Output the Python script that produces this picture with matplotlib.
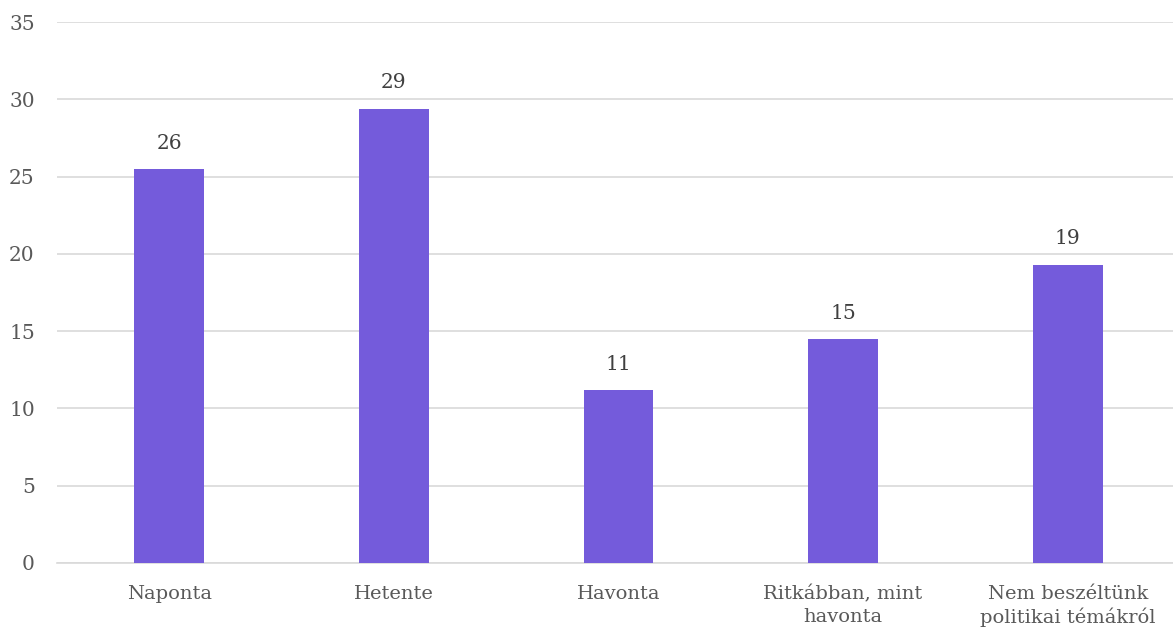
import numpy as np
import matplotlib.pyplot as plt

# Datos
categorias = ["Naponta", "Hetente", "Havonta", "Ritkábban, mint\nhavonta",
              "Nem beszéltünk\npolitikai témákról"]
valores = [25.5, 29.4, 11.2, 14.5, 19.3]
etiquetas = ["26", "29", "11", "15", "19"]
yticks = [0, 5, 10, 15, 20, 25, 30, 35]

plt.rcParams['font.family'] = ['DejaVu Serif']
gris = "#595959"

fig = plt.figure(figsize=(11.73, 6.34), dpi=100)
ax = fig.add_axes([57 / 1173, 1 - 563 / 634, 1123 / 1173, 541 / 634])

x = np.arange(len(categorias))
ax.bar(x, valores, width=0.31, color="#745BDB", zorder=3)

for xi, v, t in zip(x, valores, etiquetas):
    ax.text(xi, v + 1.05, t, ha="center", va="bottom", fontsize=14.5, color="#404040")

ax.set_xlim(-0.5, 4.5)
ax.set_ylim(0, 35)
ax.set_yticks(yticks)
ax.set_xticks(x)
ax.set_xticklabels(categorias, fontsize=14, color=gris, linespacing=1.3)
ax.tick_params(axis="y", labelsize=14.5, labelcolor=gris, length=0, pad=16)
ax.tick_params(axis="x", length=0, pad=16)
ax.grid(axis="y", color="#D9D9D9", linewidth=1.2, zorder=0)
for s in ["top", "right", "left"]:
    ax.spines[s].set_visible(False)
ax.spines["bottom"].set_color("#D9D9D9")
ax.spines["bottom"].set_linewidth(1.2)

fig.savefig("out.png", dpi=100)
